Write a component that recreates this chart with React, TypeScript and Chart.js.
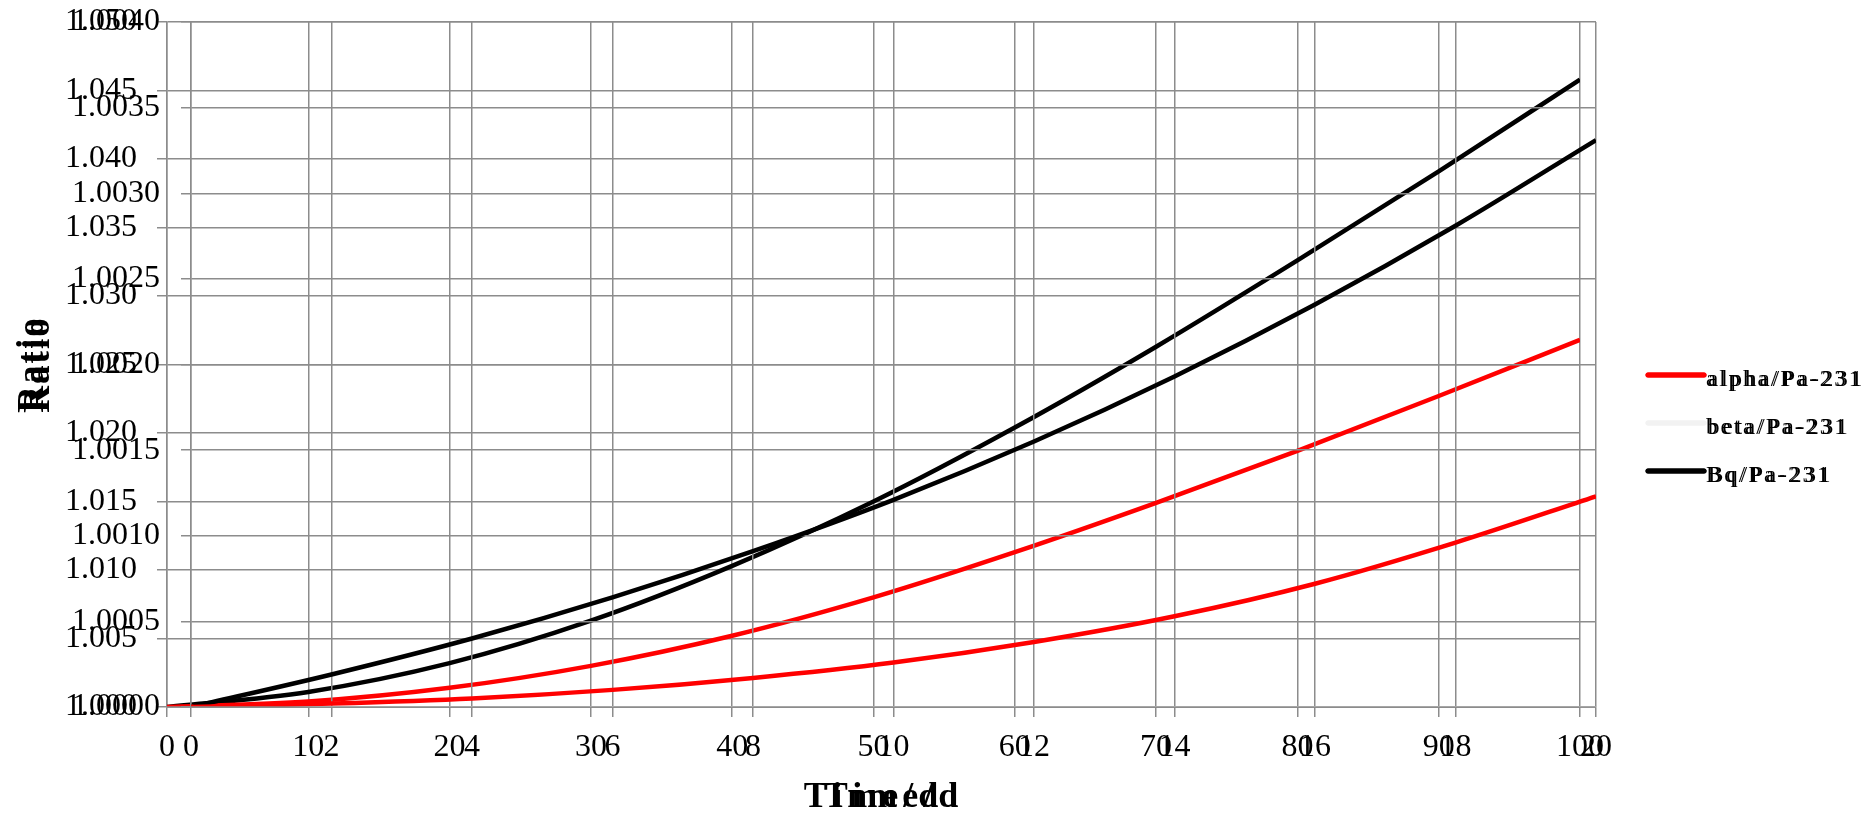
import React, { useEffect, useRef } from 'react';
import { Chart, registerables } from 'chart.js';

Chart.register(...registerables);

// ---- data: long time scale (0–100 d) ----
const timesA = [0, 10, 20, 30, 40, 50, 60, 70, 80, 90, 100];
const alphaA = [1.0, 1.0004, 1.0014, 1.003, 1.0052, 1.008, 1.0113, 1.0149, 1.0187, 1.0227, 1.0268];
const betaA = [1, 1, 1, 1, 1, 1, 1, 1, 1, 1, 1];
const bqA = [1.0, 1.0011, 1.0032, 1.0063, 1.0103, 1.015, 1.0204, 1.0263, 1.0326, 1.0391, 1.0458];

// ---- data: short time scale (0–20 d) ----
const timesB = [0, 2, 4, 6, 8, 10, 12, 14, 16, 18, 20];
const alphaB = [1.0, 1.00002, 1.00005, 1.0001, 1.00017, 1.00026, 1.00038, 1.00053, 1.00072, 1.00096, 1.00123];
const betaB = [1, 1, 1, 1, 1, 1, 1, 1, 1, 1, 1];
const bqB = [1.0, 1.00019, 1.0004, 1.00064, 1.00091, 1.00121, 1.00155, 1.00193, 1.00235, 1.00281, 1.00331];

// ---- tick labels ----
const xTicksA = ['0', '10', '20', '30', '40', '50', '60', '70', '80', '90', '100'];
const yTicksA = ['1.000', '1.005', '1.010', '1.015', '1.020', '1.025', '1.030', '1.035', '1.040', '1.045', '1.050'];
const xTicksB = ['0', '2', '4', '6', '8', '10', '12', '14', '16', '18', '20'];
const yTicksB = ['1.0000', '1.0005', '1.0010', '1.0015', '1.0020', '1.0025', '1.0030', '1.0035', '1.0040'];

const seriesLabels = ['alpha/Pa-231', 'beta/Pa-231', 'Bq/Pa-231'];
const seriesColors = ['#ff0000', '#f2f2f2', '#000000'];
const xTitle = 'Time/d';
const yTitle = 'Ratio';

const FONT = "'Liberation Serif', 'Times New Roman', serif";
const GRID = '#8c8c8c';
const W = 1870;
const H = 821;

type Spec = {
  times: number[];
  series: number[][];
  xTicks: string[];
  yTicks: string[];
  left: number;
  right: number;
  tickPad: number;
  yTitleX: number;
  legendShift: number;
};

const specA: Spec = {
  times: timesA,
  series: [alphaA, betaA, bqA],
  xTicks: xTicksA,
  yTicks: yTicksA,
  left: 167,
  right: 1580,
  tickPad: 20,
  yTitleX: 43,
  legendShift: 0,
};

const specB: Spec = {
  times: timesB,
  series: [alphaB, betaB, bqB],
  xTicks: xTicksB,
  yTicks: yTicksB,
  left: 191,
  right: 1596,
  tickPad: 21,
  yTitleX: 49,
  legendShift: 2,
};

function makeConfig(spec: Spec): any {
  const decoPlugin = {
    id: 'deco',
    afterDatasetsDraw(chart: any) {
      const { ctx, chartArea } = chart;
      ctx.save();
      ctx.strokeStyle = GRID;
      ctx.lineWidth = 1.5;
      ctx.beginPath();
      ctx.moveTo(chartArea.left, chartArea.bottom);
      ctx.lineTo(chartArea.right, chartArea.bottom);
      ctx.stroke();
      ctx.restore();
    },
    afterDraw(chart: any) {
      const { ctx, chartArea } = chart;
      ctx.save();
      ctx.fillStyle = '#000';
      ctx.font = `bold 36px ${FONT}`;
      ctx.letterSpacing = '5px';
      ctx.textAlign = 'center';
      ctx.textBaseline = 'alphabetic';
      ctx.fillText(xTitle, (chartArea.left + chartArea.right) / 2, 807);

      ctx.save();
      ctx.translate(spec.yTitleX, (chartArea.top + chartArea.bottom) / 2);
      ctx.rotate(-Math.PI / 2);
      ctx.font = `bold 37px ${FONT}`;
      ctx.letterSpacing = '2px';
      ctx.fillText(yTitle, 0, 0);
      ctx.restore();

      ctx.font = `23px ${FONT}`;
      ctx.letterSpacing = '3px';
      ctx.textAlign = 'left';
      chart.data.datasets.forEach((ds: any, i: number) => {
        const y = 375 + i * 48;
        ctx.strokeStyle = ds.borderColor;
        ctx.lineWidth = 5;
        ctx.lineCap = 'round';
        ctx.beginPath();
        ctx.moveTo(1648, y);
        ctx.lineTo(1704, y);
        ctx.stroke();
        ctx.fillText(ds.label, 1706 + spec.legendShift, y + 11);
      });
      ctx.restore();
    },
  };

  const tickFont = { family: FONT, size: 32 };

  return {
    type: 'line',
    data: {
      datasets: spec.series.map((vals, si) => ({
        label: seriesLabels[si],
        data: spec.times.map((t, i) => ({ x: t, y: vals[i] })),
        borderColor: seriesColors[si],
        backgroundColor: seriesColors[si],
        borderWidth: si === 1 ? 2 : 4.5,
        pointRadius: 0,
        fill: false,
        cubicInterpolationMode: 'monotone',
        order: si === 1 ? 2 : 1,
      })),
    },
    options: {
      responsive: false,
      devicePixelRatio: 1,
      animation: false,
      events: [],
      layout: { padding: { left: 0, top: 22, right: W - spec.right, bottom: 0 } },
      plugins: {
        legend: { display: false },
        tooltip: { enabled: false },
        title: { display: false },
      },
      scales: {
        x: {
          type: 'linear',
          min: 0,
          max: Number(spec.xTicks[spec.xTicks.length - 1]),
          afterBuildTicks: (scale: any) => {
            scale.ticks = spec.xTicks.map((s) => ({ value: Number(s) }));
          },
          afterFit: (scale: any) => {
            scale.height = 114;
            scale.paddingLeft = 0;
            scale.paddingRight = 0;
          },
          ticks: {
            callback: (_v: any, i: number) => spec.xTicks[i],
            font: tickFont,
            color: '#000',
            padding: 11,
            maxRotation: 0,
            autoSkip: false,
          },
          grid: { color: GRID, lineWidth: 1.5, tickLength: 10, drawTicks: true },
          border: { color: GRID, width: 1.5 },
        },
        y: {
          type: 'linear',
          min: Number(spec.yTicks[0]),
          max: Number(spec.yTicks[spec.yTicks.length - 1]),
          afterBuildTicks: (scale: any) => {
            scale.ticks = spec.yTicks.map((s) => ({ value: Number(s) }));
          },
          afterFit: (scale: any) => {
            scale.width = spec.left;
            scale.paddingTop = 0;
            scale.paddingBottom = 0;
          },
          ticks: {
            callback: (_v: any, i: number) => spec.yTicks[i],
            font: tickFont,
            color: '#000',
            padding: spec.tickPad,
            autoSkip: false,
          },
          grid: { color: GRID, lineWidth: 1.5, tickLength: 10, drawTicks: true },
          border: { color: GRID, width: 1.5 },
        },
      },
    },
    plugins: [decoPlugin],
  };
}

export default function App() {
  const refA = useRef<HTMLCanvasElement>(null);
  const refB = useRef<HTMLCanvasElement>(null);

  useEffect(() => {
    const a = new Chart(refA.current as HTMLCanvasElement, makeConfig(specA));
    const b = new Chart(refB.current as HTMLCanvasElement, makeConfig(specB));
    return () => {
      a.destroy();
      b.destroy();
    };
  }, []);

  const cs: React.CSSProperties = { position: 'absolute', left: 0, top: 0, width: W, height: H };
  return (
    <div style={{ position: 'fixed', left: 0, top: 0, width: W, height: H, background: '#fff' }}>
      <canvas ref={refA} width={W} height={H} style={cs} />
      <canvas ref={refB} width={W} height={H} style={cs} />
    </div>
  );
}
